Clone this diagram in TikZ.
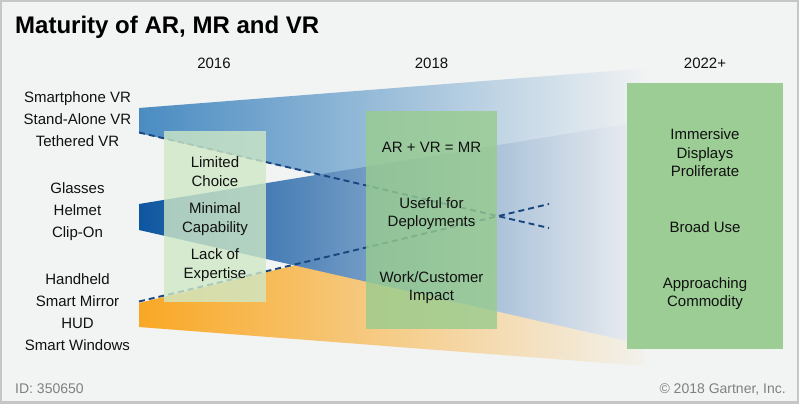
\documentclass[tikz,border=0pt]{standalone}
\usepackage{fontspec}
\setmainfont{Liberation Sans}
\definecolor{bgc}{HTML}{F2F3F3}
\definecolor{framec}{HTML}{C6C6C6}
\definecolor{vrL}{HTML}{4A8CC2}
\definecolor{arL}{HTML}{0D56A0}
\definecolor{arR}{HTML}{E6EAEF}
\definecolor{orL}{HTML}{F9A825}
\definecolor{orR}{HTML}{F2F1EC}
\definecolor{dashc}{HTML}{18477F}
\definecolor{gA}{HTML}{CFE8C6}
\definecolor{gB}{HTML}{98CC8E}
\definecolor{gC}{HTML}{9BCD95}
\definecolor{footc}{HTML}{808080}
\definecolor{txtc}{HTML}{111111}
\tikzset{
  lbl/.style={font=\fontsize{15}{18}\selectfont, text=txtc, anchor=base, inner sep=0pt},
  footlbl/.style={font=\fontsize{14}{16}\selectfont, text=footc, inner sep=0pt},
  dashln/.style={draw=dashc, line width=1.9pt, dash pattern=on 6pt off 4pt},
  gbox/.style={inner sep=0pt, anchor=north west, draw=none}
}
\begin{document}
\begin{tikzpicture}[x=1pt,y=-1pt]
\useasboundingbox (0,0) rectangle (800,405);
\fill[white] (0,0) rectangle (800,405);
\filldraw[fill=bgc, draw=framec, line width=2.2pt] (1.2,1.2) rectangle (797.8,402.5);
% title
\node[anchor=base west, inner sep=0pt, text=black, font=\fontsize{24}{28}\selectfont\bfseries] (title) at (15,33) {Maturity of AR, MR and VR};
% bands
\shade[left color=vrL, right color=bgc] (139,108) -- (650,68) -- (650,110) -- (627,160) -- (400,194) -- (139,133) -- cycle;
\shade[left color=orL, right color=orR] (139,303) -- (300,264) -- (627,300) -- (645,345) -- (645,366) -- (139,327) -- cycle;
\shade[left color=arL, right color=arR] (139,204) -- (627,124) -- (627,341) -- (139,230) -- cycle;
% dashed lines
\coordinate (d1s) at (139,132.5);
\coordinate (d1e) at (549,228);
\coordinate (d2s) at (139,301.5);
\coordinate (d2e) at (549,204);
\draw[dashln] (d1s) -- (d1e);
\draw[dashln] (d2s) -- (d2e);
% boxes
\node[gbox, fill=gA, fill opacity=0.8, minimum width=102pt, minimum height=171pt] (b16) at (164,131) {};
\node[gbox, fill=gB, fill opacity=0.8, minimum width=131pt, minimum height=218pt] (b18) at (366,111) {};
\node[gbox, fill=gC, minimum width=156pt, minimum height=266pt] (b22) at (627,83) {};
% years
\node[lbl] (y16) at (214,68) {2016};
\node[lbl] (y18) at (431.5,68) {2018};
\node[lbl] (y22) at (705,68) {2022+};
% left labels
\node[lbl] (l1) at (77.5,102) {Smartphone VR};
\node[lbl] (l2) at (77.5,124) {Stand-Alone VR};
\node[lbl] (l3) at (77.5,146) {Tethered VR};
\node[lbl] (l4) at (77.5,193) {Glasses};
\node[lbl] (l5) at (77.5,215) {Helmet};
\node[lbl] (l6) at (77.5,237) {Clip-On};
\node[lbl] (l7) at (77.5,284) {Handheld};
\node[lbl] (l8) at (77.5,306) {Smart Mirror};
\node[lbl] (l9) at (77.5,328) {HUD};
\node[lbl] (l10) at (77.5,350) {Smart Windows};
% 2016 box text
\node[lbl] (a1) at (215,167) {Limited};
\node[lbl] (a2) at (215,186) {Choice};
\node[lbl] (a3) at (215,213) {Minimal};
\node[lbl] (a4) at (215,232) {Capability};
\node[lbl] (a5) at (215,259) {Lack of};
\node[lbl] (a6) at (215,278) {Expertise};
% 2018 box text
\node[lbl] (m1) at (431.5,152) {AR + VR = MR};
\node[lbl] (m2) at (431.5,208) {Useful for};
\node[lbl] (m3) at (431.5,226) {Deployments};
\node[lbl] (m4) at (431.5,282) {Work/Customer};
\node[lbl] (m5) at (431.5,300) {Impact};
% 2022 box text
\node[lbl] (r1) at (705,139) {Immersive};
\node[lbl] (r2) at (705,158) {Displays};
\node[lbl] (r3) at (705,176) {Proliferate};
\node[lbl] (r4) at (705,232) {Broad Use};
\node[lbl] (r5) at (705,288) {Approaching};
\node[lbl] (r6) at (705,306) {Commodity};
% footer
\node[footlbl, anchor=base west] (fid) at (15,393) {ID: 350650};
\node[footlbl, anchor=base east] (fcopy) at (786,393) {© 2018 Gartner, Inc.};
\end{tikzpicture}
\end{document}
